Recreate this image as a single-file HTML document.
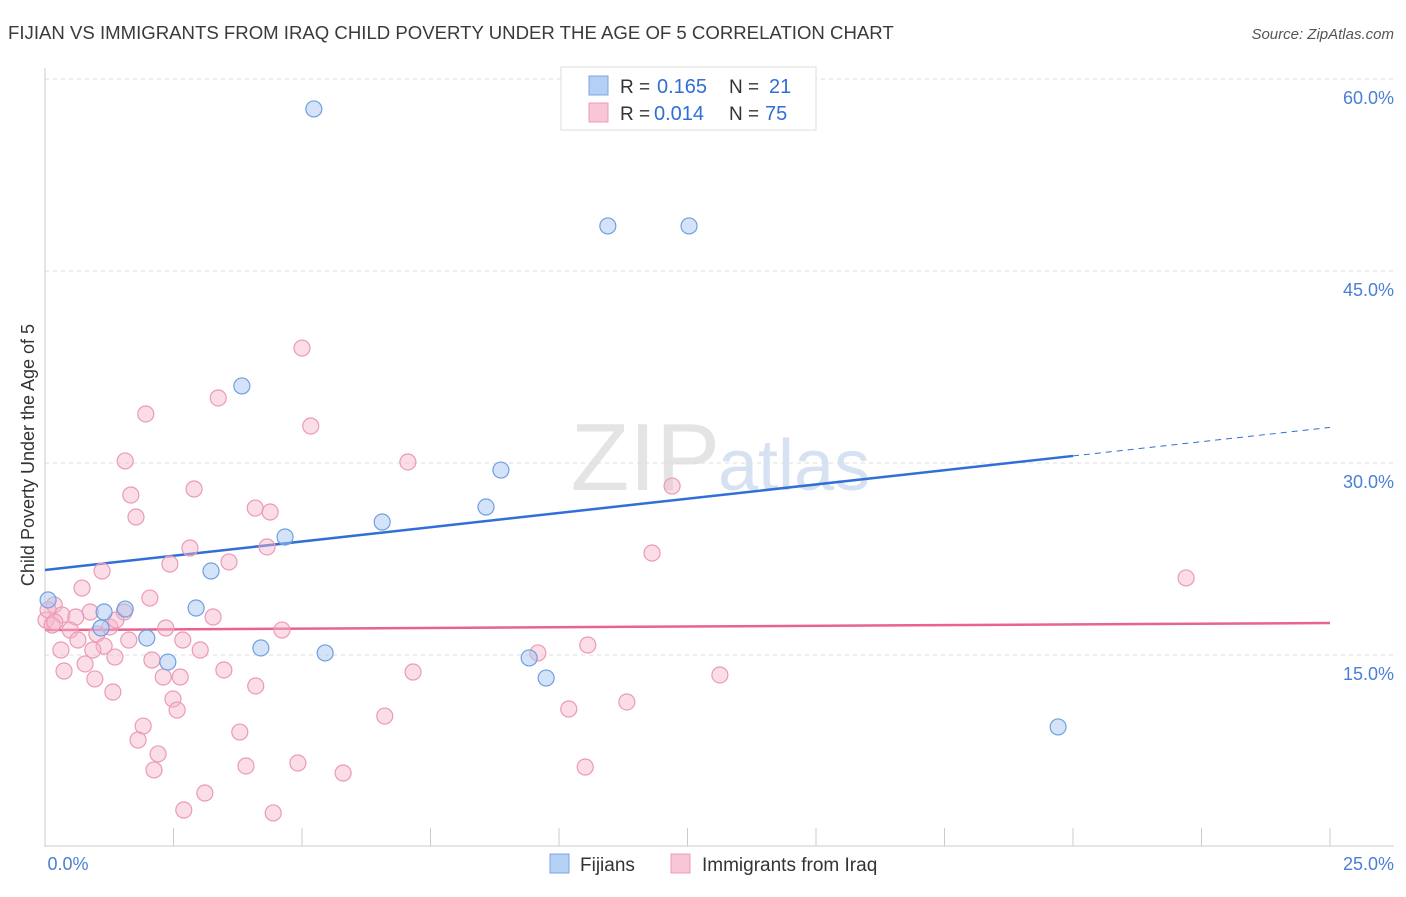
<!DOCTYPE html>
<html><head><meta charset="utf-8"><style>
body{margin:0;background:#fff;font-family:"Liberation Sans",sans-serif;}
svg text{font-family:"Liberation Sans",sans-serif;}
</style></head><body>
<svg width="1406" height="892" id="chart">
<text x="8" y="39" font-size="18.6" fill="#3a3a3a">FIJIAN VS IMMIGRANTS FROM IRAQ CHILD POVERTY UNDER THE AGE OF 5 CORRELATION CHART</text>
<text x="1394" y="39" font-size="15" fill="#555" text-anchor="end" font-style="italic">Source: ZipAtlas.com</text>
<text x="720" y="490" font-size="96" fill="#e4e4e4" text-anchor="end" font-family="Liberation Serif">ZIP</text>
<text x="718" y="490" font-size="72" fill="#d6e2f2">atlas</text>
<g id="grid"></g><g id="axes"></g><g id="lines"></g><g id="pts"></g>
<text transform="translate(34,455) rotate(-90)" font-size="18" fill="#333" text-anchor="middle">Child Poverty Under the Age of 5</text>
<g>
<rect x="561" y="67" width="255" height="63" fill="#fff" stroke="#ddd"/>
<rect x="589" y="76" width="19" height="19" fill="#b5d0f5" stroke="#7aa6e0"/>
<rect x="589" y="103" width="19" height="19" fill="#f9c6d6" stroke="#ec9bb6"/>
<text x="620" y="93" font-size="19" fill="#333">R =</text>
<text x="657" y="93" font-size="20" fill="#2f6fd6">0.165</text>
<text x="729" y="93" font-size="19" fill="#333">N =</text>
<text x="769" y="93" font-size="20" fill="#2f6fd6">21</text>
<text x="620" y="120" font-size="19" fill="#333">R =</text>
<text x="654" y="120" font-size="20" fill="#2f6fd6">0.014</text>
<text x="729" y="120" font-size="19" fill="#333">N =</text>
<text x="765" y="120" font-size="20" fill="#2f6fd6">75</text>
</g>
<g>
<rect x="550" y="854" width="19" height="19" fill="#b5d0f5" stroke="#7aa6e0"/>
<text x="580" y="871" font-size="19" fill="#333">Fijians</text>
<rect x="671" y="854" width="19" height="19" fill="#f9c6d6" stroke="#ec9bb6"/>
<text x="702" y="871" font-size="19" fill="#333">Immigrants from Iraq</text>
</g>
</svg>
<script>
const yTicks=[15,30,45,60];
const yTickLabels=["15.0%","30.0%","45.0%","60.0%"];
const xTickLabels=["0.0%","25.0%"];
const fijX=[5.23,10.95,12.53,3.83,8.87,8.58,6.56,4.67,3.23,2.94,1.56,1.15,0.06,1.09,1.98,2.39,4.20,5.45,9.42,9.75,19.71];
const fijY=[57.66,48.52,48.52,36.02,29.45,26.56,25.39,24.22,21.56,18.67,18.59,18.36,19.30,17.11,16.33,14.45,15.55,15.16,14.77,13.20,9.38];
const iraqX=[5.00,3.37,5.17,1.96,1.56,7.06,12.20,2.90,1.67,1.77,4.09,4.38,2.82,4.32,3.58,2.43,11.81,1.11,0.72,2.04,22.20,0.18,0.88,1.54,0.33,0.60,0.02,0.14,1.26,0.49,2.35,3.27,1.38,4.61,1.01,1.63,2.68,0.64,1.15,0.31,0.93,3.02,10.56,9.59,1.36,2.08,0.78,0.37,3.48,7.16,2.30,2.63,0.97,13.13,4.10,1.32,2.49,2.57,6.61,10.19,11.32,1.91,3.79,1.81,2.20,3.91,4.92,5.80,2.12,10.51,3.11,2.70,4.44,0.06,0.19];
const iraqY=[38.98,35.08,32.89,33.83,30.16,30.08,28.20,27.97,27.50,25.78,26.48,26.17,23.36,23.44,22.27,22.11,22.97,21.56,20.23,19.45,21.02,18.91,18.36,18.36,18.13,17.97,17.73,17.34,17.19,16.95,17.11,17.97,17.73,16.95,16.64,16.17,16.17,16.17,15.70,15.39,15.39,15.39,15.78,15.16,14.84,14.61,14.30,13.75,13.83,13.67,13.28,13.28,13.13,13.44,12.58,12.11,11.56,10.70,10.23,10.78,11.33,9.45,8.98,8.36,7.27,6.33,6.56,5.78,6.02,6.25,4.22,2.89,2.66,18.52,17.58];
const fijTrend=[21.64,32.78];const fijSolidEnd=20;
const iraqTrend=[16.95,17.5];
const NS="http://www.w3.org/2000/svg";
const X=v=>45+v/25*1285, Y=v=>847-v/15*192;
function mk(p,tag,a){const e=document.createElementNS(NS,tag);for(const k in a)e.setAttribute(k,a[k]);document.getElementById(p).appendChild(e);return e;}
yTicks.forEach((t,i)=>{
 const g=mk('grid','line',{x1:45,x2:1394,y1:Y(t),y2:Y(t),stroke:'#ddd','stroke-dasharray':'4,4'});
 
 
 const l=mk('grid','text',{x:1394,y:Y(t)+25,'font-size':18,fill:'#4a7fd4','text-anchor':'end'});l.textContent=yTickLabels[i];
 
 
});
mk('axes','line',{x1:45,x2:45,y1:68,y2:847,stroke:'#ccc'});
mk('axes','line',{x1:45,x2:1394,y1:846,y2:846,stroke:'#ccc'});
for(let i=0;i<=10;i++){const t=mk('axes','line',{x1:X(i*2.5),x2:X(i*2.5),y1:828,y2:846,stroke:'#ccc'});
 
 }
[[0,X(0)+23,'middle'],[1,1394,'end']].forEach(([i,x,a])=>{const l=mk('axes','text',{x:x,y:870,'font-size':18,fill:'#4a7fd4','text-anchor':a});l.textContent=xTickLabels[i];
 
 });
const fy=v=>fijTrend[0]+(fijTrend[1]-fijTrend[0])*v/25;
let b=mk('lines','line',{x1:X(0),y1:Y(fy(0)),x2:X(fijSolidEnd),y2:Y(fy(fijSolidEnd)),stroke:'#2f6fd6','stroke-width':2.5});


b=mk('lines','line',{x1:X(fijSolidEnd),y1:Y(fy(fijSolidEnd)),x2:X(25),y2:Y(fy(25)),stroke:'#2f6fd6','stroke-width':1,'stroke-dasharray':'6,5'});


b=mk('lines','line',{x1:X(0),y1:Y(iraqTrend[0]),x2:X(25),y2:Y(iraqTrend[1]),stroke:'#e8638f','stroke-width':2.5});


iraqX.forEach((x,i)=>{const c=mk('pts','circle',{cx:X(x),cy:Y(iraqY[i]),r:8,fill:'rgba(246,180,202,0.45)',stroke:'#eb9ab5','stroke-width':1.2});
 
 });
fijX.forEach((x,i)=>{const c=mk('pts','circle',{cx:X(x),cy:Y(fijY[i]),r:8,fill:'rgba(170,200,242,0.5)',stroke:'#6f9fe0','stroke-width':1.2});
 
 });
</script>
</body></html>
